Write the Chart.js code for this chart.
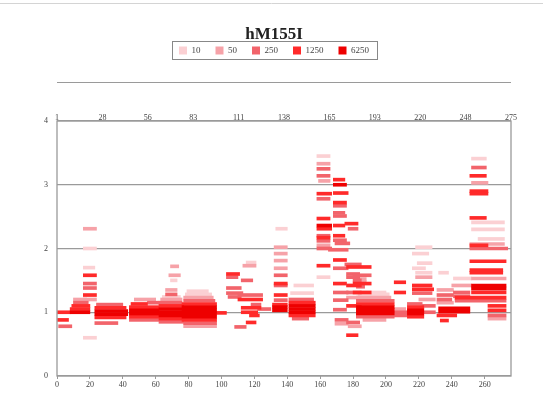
<!DOCTYPE html>
<html>
<head>
<meta charset="utf-8">
<script src="https://cdn.jsdelivr.net/npm/chart.js@4"></script>
<style>
  html, body { margin: 0; padding: 0; background: #fff; }
</style>
</head>
<body>
<canvas id="chart" width="543" height="409"></canvas>
<script>
// count levels and their shades
const levels = ['10', '50', '250', '1250', '6250'];
const levelColors = ['#fbd0d3', '#f6a2a8', '#f2646b', '#ff2a2a', '#ee0000'];

const bottomTicks = [0, 20, 40, 60, 80, 100, 120, 140, 160, 180, 200, 220, 240, 260];
const topLabels = ['1', '28', '56', '83', '111', '138', '165', '193', '220', '248', '275'];
const xMax = 276;

// segments: [start, end, y]
const seg6250 = [
    [8, 20, 1.0], [23, 43, 0.97], [23, 43, 1.02], [44, 62, 0.98], [44, 62, 1.03],
    [62, 77, 0.95], [62, 77, 1.0], [62, 77, 1.05],
    [76, 97, 0.93], [76, 97, 0.98], [76, 97, 1.03], [76, 97, 1.08],
    [131, 140, 1.03], [131, 140, 1.08], [141, 157, 1.0], [141, 157, 1.05], [141, 157, 1.1],
    [158, 167, 2.36], [168, 176, 3.0],
    [182, 205, 0.98], [182, 205, 1.03], [182, 205, 1.08],
    [213, 223, 0.98], [213, 223, 1.03], [232, 251, 1.01], [232, 251, 1.06],
    [252, 273, 1.42], [252, 273, 1.37]
];
const seg1250 = [
    [0, 8, 1.0], [0, 7, 0.88], [8, 20, 1.05], [9, 20, 1.1], [16, 24, 1.58], [16, 24, 1.27],
    [23, 42, 0.92], [23, 42, 1.07], [44, 62, 0.93], [44, 62, 1.08], [45, 55, 1.13],
    [62, 77, 0.9], [62, 77, 1.1], [76, 97, 0.88], [76, 97, 1.13], [97, 103, 0.99],
    [103, 111, 1.6], [110, 125, 1.2], [112, 124, 1.07], [112, 122, 1.0], [117, 123, 0.95], [115, 121, 0.84],
    [132, 140, 1.45], [132, 140, 1.27], [131, 140, 1.12], [141, 157, 0.95], [141, 157, 1.15],
    [158, 167, 2.86], [158, 166, 2.47], [158, 167, 2.31], [158, 166, 1.73], [158, 166, 2.17],
    [168, 175, 3.08], [168, 177, 2.87], [168, 176, 2.72], [168, 175, 2.36], [175, 183, 2.39],
    [168, 175, 2.2], [168, 176, 1.82], [168, 176, 1.45], [176, 183, 0.64], [176, 191, 1.71],
    [176, 185, 1.42], [176, 185, 1.1], [180, 191, 1.45], [180, 191, 1.31],
    [182, 205, 1.13], [205, 212, 1.47], [205, 212, 1.31], [213, 223, 0.93], [213, 223, 1.08],
    [216, 228, 1.42], [216, 229, 1.36], [231, 243, 0.95], [233, 238, 0.87],
    [251, 261, 3.14], [251, 262, 2.9], [251, 262, 2.86], [251, 261, 2.48], [251, 262, 2.05],
    [251, 273, 1.8], [251, 271, 1.66], [251, 271, 1.62], [252, 273, 1.31], [242, 273, 1.23],
    [262, 273, 1.1], [262, 273, 1.03]
];
const seg250 = [
    [1, 9, 0.78], [10, 19, 1.15], [16, 24, 1.45], [16, 24, 1.38], [24, 40, 1.12], [23, 37, 0.83],
    [44, 62, 0.88], [55, 62, 1.15], [62, 77, 0.85], [62, 76, 1.15], [66, 73, 1.28],
    [77, 97, 0.83], [77, 96, 1.18],
    [103, 110, 1.55], [103, 112, 1.38], [103, 113, 1.3], [104, 112, 1.24], [108, 115, 0.77],
    [112, 119, 1.5], [110, 125, 1.27], [118, 124, 1.12], [122, 130, 1.05],
    [132, 140, 1.58], [132, 140, 1.42], [132, 140, 1.19], [141, 156, 1.2], [143, 153, 0.9],
    [158, 166, 3.25], [158, 166, 3.14], [158, 166, 2.78], [158, 166, 2.2], [158, 166, 2.12], [158, 167, 2.0],
    [168, 176, 2.67], [168, 175, 2.56], [168, 176, 2.51], [177, 183, 2.31], [168, 176, 2.13],
    [169, 178, 2.08], [165, 177, 1.98], [175, 185, 1.75], [168, 177, 1.69], [180, 185, 1.5],
    [168, 177, 1.31], [168, 177, 1.19], [168, 176, 1.04], [169, 177, 0.88], [176, 184, 1.6],
    [176, 184, 1.55], [176, 185, 1.31], [176, 184, 0.84], [180, 191, 1.58], [182, 190, 0.95],
    [182, 205, 0.93], [182, 205, 1.18], [182, 187, 1.4],
    [205, 213, 1.0], [205, 213, 0.95], [213, 222, 1.13], [216, 228, 1.3], [222, 230, 1.1], [222, 230, 1.0],
    [231, 241, 1.27], [231, 240, 1.2], [241, 251, 1.31], [241, 251, 1.25],
    [252, 261, 3.27], [251, 274, 2.0], [242, 273, 1.18], [262, 273, 0.95]
];
const seg50 = [
    [10, 18, 1.2], [16, 24, 1.2], [16, 24, 2.31], [47, 60, 1.2],
    [63, 76, 1.2], [69, 74, 1.72], [68, 75, 1.58], [66, 73, 1.35],
    [77, 97, 0.78], [77, 95, 1.23], [113, 121, 1.73],
    [132, 140, 2.02], [132, 140, 1.92], [132, 140, 1.81], [132, 140, 1.69],
    [158, 166, 3.33], [159, 166, 3.06], [158, 166, 2.05],
    [169, 177, 0.82], [176, 184, 1.23], [177, 185, 0.78], [182, 188, 1.47], [182, 188, 1.52],
    [182, 203, 1.23], [186, 200, 0.88], [205, 212, 1.05], [218, 228, 1.55], [220, 230, 1.2],
    [231, 241, 1.35], [231, 241, 1.15], [240, 252, 1.42],
    [252, 262, 3.03], [251, 272, 2.07], [252, 273, 1.53], [262, 273, 0.9]
];
const seg10 = [
    [16, 24, 2.0], [16, 24, 0.6], [16, 23, 1.7], [64, 75, 1.24], [69, 73, 1.5],
    [78, 94, 1.28], [79, 92, 1.33], [115, 121, 1.78], [133, 140, 2.31],
    [144, 156, 1.42], [142, 156, 1.3], [158, 166, 3.45], [158, 166, 1.55],
    [183, 202, 1.28], [184, 200, 1.31],
    [218, 228, 1.62], [219, 228, 1.77], [218, 228, 2.02], [216, 226, 1.92], [216, 224, 1.69],
    [232, 238, 1.62], [241, 252, 1.53],
    [252, 261, 3.41], [252, 272, 2.41], [252, 272, 2.3], [256, 272, 2.15]
];

const serif = 'Liberation Serif';
const textColor = '#444';
const lineColor = '#9a9a9a';

function toBars(segs) {
    return segs.map(s => ({ x: [s[0], s[1]], y: s[2] }));
}

// darkest first so it is painted on top; legend is reversed back
const segsByLevel = [seg10, seg50, seg250, seg1250, seg6250];
const datasets = [];
for (let i = levels.length - 1; i >= 0; i--) {
    datasets.push({
        label: levels[i],
        data: toBars(segsByLevel[i]),
        backgroundColor: levelColors[i],
        borderColor: levelColors[i],
        borderWidth: 0,
        barThickness: 3,
        grouped: false
    });
}

// frame round the plot, the rule above it and the box round the legend
const decorations = {
    id: 'decorations',
    afterDatasetsDraw(chart) {
        const { ctx, chartArea: a } = chart;
        ctx.save();
        ctx.strokeStyle = lineColor;
        ctx.lineWidth = 1.3;
        ctx.strokeRect(a.left, a.top, a.right - a.left, a.bottom - a.top);
        ctx.lineWidth = 1;
        ctx.beginPath();
        ctx.moveTo(a.left, a.top - 38.5);
        ctx.lineTo(a.right, a.top - 38.5);
        ctx.stroke();
        ctx.restore();
    },
    afterDraw(chart) {
        const { ctx } = chart;
        const boxes = chart.legend.legendHitBoxes;
        if (!boxes || !boxes.length) return;
        const left = Math.min(...boxes.map(b => b.left)) - 7;
        const right = Math.max(...boxes.map(b => b.left + b.width)) + 8;
        const top = boxes[0].top - 5;
        ctx.save();
        ctx.strokeStyle = '#888';
        ctx.lineWidth = 1;
        ctx.strokeRect(Math.round(left) + 0.5, Math.round(top) + 0.5, Math.round(right - left), 18);
        ctx.beginPath();
        ctx.strokeStyle = '#d4d4d4';
        ctx.moveTo(0, 3.5);
        ctx.lineTo(543, 3.5);
        ctx.stroke();
        ctx.restore();
    }
};

new Chart(document.getElementById('chart'), {
    type: 'bar',
    data: { datasets },
    options: {
        responsive: false,
        animation: false,
        indexAxis: 'y',
        layout: { padding: { left: 37, right: 32, top: 0, bottom: 0 } },
        plugins: {
            title: {
                display: true,
                text: 'hM155I',
                color: '#222',
                font: { family: serif, size: 17, weight: 'bold', lineHeight: 1 },
                padding: { top: 26, bottom: -12 }
            },
            legend: {
                reverse: true,
                labels: {
                    boxWidth: 8,
                    boxHeight: 8,
                    padding: 15,
                    color: textColor,
                    font: { family: serif, size: 9 }
                }
            },
            tooltip: { enabled: false }
        },
        scales: {
            x: {
                type: 'linear',
                position: 'bottom',
                min: 0,
                max: xMax,
                afterBuildTicks: s => { s.ticks = bottomTicks.map(v => ({ value: v })); },
                afterFit: s => { s.height = 33; },
                ticks: { color: textColor, padding: 1, maxRotation: 0, font: { family: serif, size: 8 } },
                grid: { drawOnChartArea: false, tickLength: 3, color: lineColor },
                border: { display: false }
            },
            x2: {
                type: 'linear',
                position: 'top',
                min: 0,
                max: xMax,
                afterBuildTicks: s => { s.ticks = topLabels.map((l, i) => ({ value: i * xMax / 10 })); },
                afterFit: s => { s.height = 56; },
                ticks: {
                    color: textColor, padding: -10, maxRotation: 0, autoSkip: false,
                    font: { family: serif, size: 8 },
                    callback: (v, i) => topLabels[i]
                },
                grid: { display: false },
                border: { display: false }
            },
            y: {
                type: 'linear',
                min: 0,
                max: 4,
                offset: false,
                afterFit: s => { s.width = 20; },
                ticks: { stepSize: 1, color: textColor, padding: 9, font: { family: serif, size: 8 } },
                grid: { color: lineColor, lineWidth: 1.3, drawTicks: false, offset: false },
                border: { display: false }
            }
        }
    },
    plugins: [decorations]
});
</script>
</body>
</html>
